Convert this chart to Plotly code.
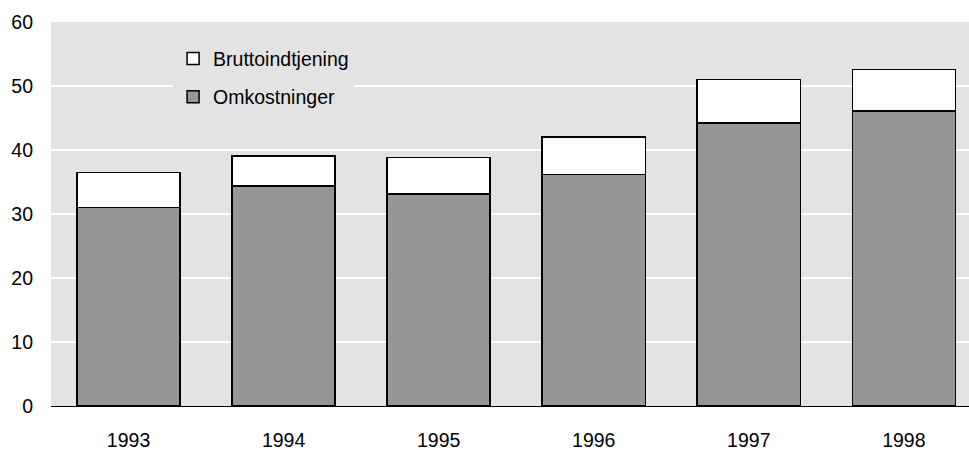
import plotly.graph_objects as go

years = ["1993", "1994", "1995", "1996", "1997", "1998"]
omkostninger = [31.0, 34.4, 33.1, 36.2, 44.2, 46.1]
total = [36.5, 39.1, 38.8, 42.0, 51.0, 52.6]
bruttoindtjening = [round(t - o, 2) for t, o in zip(total, omkostninger)]

FONT = "Liberation Sans Narrow, Arial Narrow, Liberation Sans, Arial, sans-serif"

fig = go.Figure()
fig.add_trace(go.Bar(
    x=years, y=omkostninger, name="Omkostninger", legendgroup="a", legendrank=2,
    marker=dict(color="#969696", line=dict(color="#000000", width=1.5)),
    width=0.665,
))
fig.add_trace(go.Bar(
    x=years, y=bruttoindtjening, name="Bruttoindtjening", legendgroup="b", legendrank=1,
    marker=dict(color="#ffffff", line=dict(color="#000000", width=1.5)),
    width=0.665,
))

fig.update_layout(
    barmode="stack",
    width=969, height=450,
    margin=dict(l=51, r=0, t=22, b=44),
    paper_bgcolor="#ffffff",
    plot_bgcolor="#e3e3e3",
    font=dict(family=FONT, size=19.5, color="#000000"),
    showlegend=True,
    legend=dict(
        x=0.133, y=0.955, xanchor="left", yanchor="top",
        bgcolor="#e3e3e3",
        font=dict(family=FONT, size=19.5),
        traceorder="grouped",
        itemwidth=30,
        tracegroupgap=10,
    ),
    xaxis=dict(
        type="category",
        range=[-0.5, 5.42],
        showgrid=False,
        showline=True, linecolor="#000000", linewidth=1,
        ticks="", ticklabelstandoff=17,
        tickfont=dict(family=FONT, size=19.5),
    ),
    yaxis=dict(
        range=[0, 60],
        tickvals=[0, 10, 20, 30, 40, 50, 60],
        showgrid=True, gridcolor="#ffffff", gridwidth=2,
        zeroline=False,
        showline=False,
        ticks="", ticklabelstandoff=17,
        tickfont=dict(family=FONT, size=19.5),
    ),
)

fig.write_html(
    "out.html",
    config={"displayModeBar": False},
    post_script="document.body.style.margin='0';document.body.style.overflow='hidden';",
)
